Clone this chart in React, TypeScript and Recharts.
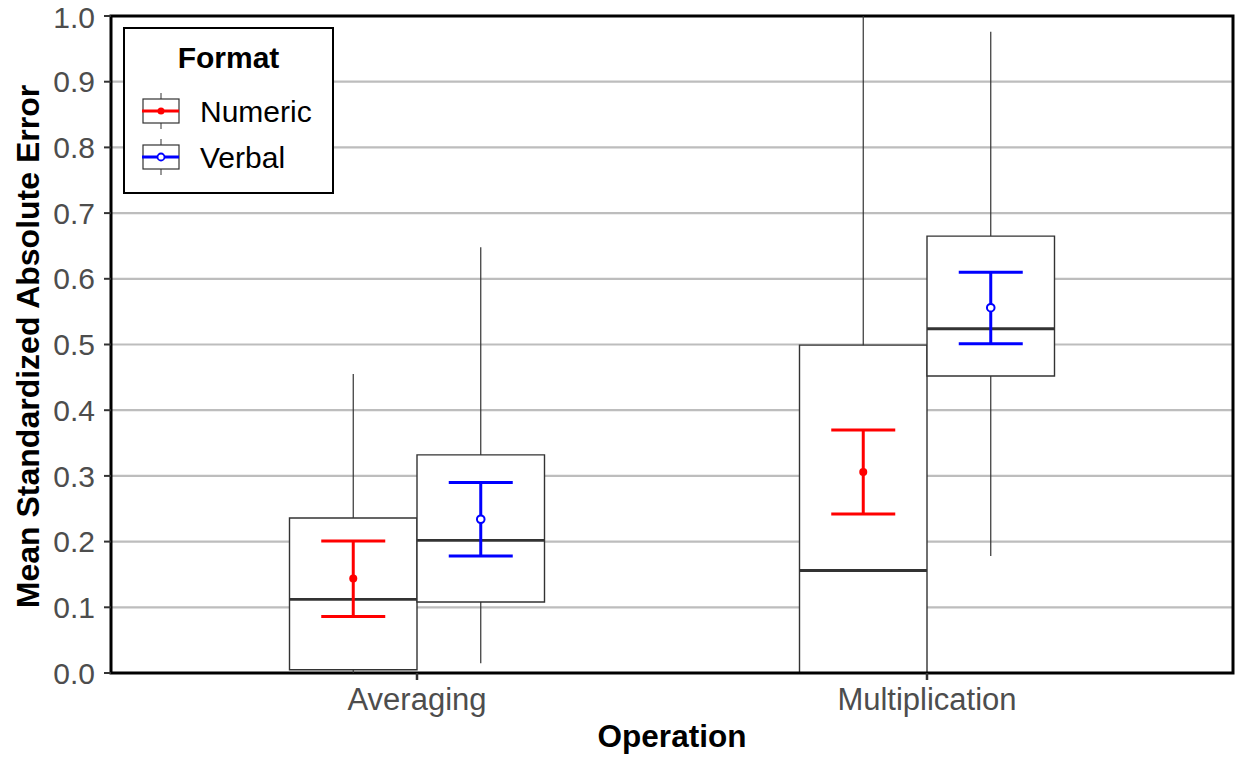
import React from "react";
import {
  ComposedChart,
  XAxis,
  YAxis,
  CartesianGrid,
  Scatter,
  ErrorBar,
  ReferenceArea,
  ReferenceLine,
  Legend,
} from "recharts";

const categories = ["Averaging", "Multiplication"];
const formats = ["Numeric", "Verbal"];
const formatColors = ["#ff0000", "#0000ff"];
const yTicks = [0, 0.1, 0.2, 0.3, 0.4, 0.5, 0.6, 0.7, 0.8, 0.9, 1.0];

// box plot stats, one value per operation
const numericMin = [0.0, 0.0];
const numericQ1 = [0.005, 0.0];
const numericMedian = [0.112, 0.156];
const numericQ3 = [0.236, 0.499];
const numericMax = [0.455, 1.0];
const numericMean = [0.144, 0.306];
const numericCiLow = [0.086, 0.242];
const numericCiHigh = [0.201, 0.37];

const verbalMin = [0.015, 0.178];
const verbalQ1 = [0.108, 0.452];
const verbalMedian = [0.202, 0.524];
const verbalQ3 = [0.332, 0.665];
const verbalMax = [0.648, 0.976];
const verbalMean = [0.234, 0.556];
const verbalCiLow = [0.178, 0.501];
const verbalCiHigh = [0.29, 0.61];

const stats = [
  { min: numericMin, q1: numericQ1, med: numericMedian, q3: numericQ3, max: numericMax, mean: numericMean, lo: numericCiLow, hi: numericCiHigh },
  { min: verbalMin, q1: verbalQ1, med: verbalMedian, q3: verbalQ3, max: verbalMax, mean: verbalMean, lo: verbalCiLow, hi: verbalCiHigh },
];

const DODGE = 0.25;
const HALF = 0.125;

const boxes = formats.flatMap((f, fi) =>
  categories.map((c, ci) => ({
    fi,
    x: ci + 1 + (fi - 0.5) * DODGE,
    min: stats[fi].min[ci],
    q1: stats[fi].q1[ci],
    med: stats[fi].med[ci],
    q3: stats[fi].q3[ci],
    max: stats[fi].max[ci],
    mean: stats[fi].mean[ci],
    lo: stats[fi].lo[ci],
    hi: stats[fi].hi[ci],
  }))
);

const whiskerData = boxes.flatMap((b) => [
  { x: b.x, y: b.q3, err: [0, b.max - b.q3] },
  { x: b.x, y: b.q1, err: [b.q1 - b.min, 0] },
]);

const meanData = formats.map((f, fi) =>
  boxes
    .filter((b) => b.fi === fi)
    .map((b) => ({ x: b.x, y: b.mean, ci: [b.mean - b.lo, b.hi - b.mean] }))
);

const FONT = '"Liberation Sans", Arial, Helvetica, sans-serif';

function LegendBox() {
  return (
    <svg width={211} height={167} style={{ fontFamily: FONT, display: "block" }}>
      <rect x={1} y={1} width={209} height={165} fill="#fff" stroke="#000" strokeWidth={2} />
      <text x={105.5} y={41} textAnchor="middle" fontSize={30} fontWeight="bold" fill="#000">
        Format
      </text>
      {formats.map((f, i) => {
        const cy = 84 + i * 46;
        return (
          <g key={f}>
            <line x1={38} x2={38} y1={cy - 18} y2={cy + 18} stroke="#333" strokeWidth={1} />
            <rect x={20} y={cy - 12} width={36} height={24} fill="#fff" stroke="#333" strokeWidth={1.2} />
            <line x1={19} x2={56} y1={cy} y2={cy} stroke={formatColors[i]} strokeWidth={3} />
            <circle
              cx={38}
              cy={cy}
              r={3.5}
              fill={i === 0 ? formatColors[i] : "#fff"}
              stroke={formatColors[i]}
              strokeWidth={i === 0 ? 0 : 1.8}
            />
            <text x={77} y={cy + 11} fontSize={30} fill="#000">
              {f}
            </text>
          </g>
        );
      })}
    </svg>
  );
}

export default function App() {
  return (
    <div style={{ position: "absolute", left: 0, top: 0 }}>
      <ComposedChart
        width={1238}
        height={758}
        margin={{ top: 16, right: 5, left: 0, bottom: 0 }}
        style={{ fontFamily: FONT, background: "#fff" }}
      >
        <CartesianGrid vertical={false} stroke="#bdbdbd" strokeWidth={2.2} />
        <XAxis
          type="number"
          dataKey="x"
          domain={[0.4, 2.6]}
          ticks={[1, 2]}
          allowDataOverflow
          tickFormatter={(v) => categories[v - 1]}
          axisLine={false}
          tickLine={{ stroke: "#333", strokeWidth: 2.5 }}
          tickSize={7}
          tickMargin={8}
          tick={{ fill: "#4d4d4d", fontSize: 31 }}
          height={85}
          label={{
            content: (props: any) => {
              const vb = props.viewBox || { x: 111, y: 673, width: 1122 };
              return (
                <text x={vb.x + vb.width / 2} y={vb.y + 74} textAnchor="middle" fontSize={31.5} fontWeight="bold" fill="#000">
                  Operation
                </text>
              );
            },
          }}
        />
        <YAxis
          type="number"
          dataKey="y"
          domain={[0, 1]}
          ticks={yTicks}
          allowDataOverflow
          tickFormatter={(v) => v.toFixed(1)}
          axisLine={false}
          tickLine={{ stroke: "#333", strokeWidth: 2 }}
          tickSize={7}
          tickMargin={9}
          tick={{ fill: "#4d4d4d", fontSize: 30 }}
          width={111}
          label={{
            content: (props: any) => {
              const vb = props.viewBox || { x: 0, y: 16, height: 657 };
              const cx = vb.x + 39;
              const cy = vb.y + vb.height / 2 + 2;
              return (
                <text
                  x={cx}
                  y={cy}
                  transform={`rotate(-90 ${cx} ${cy})`}
                  textAnchor="middle"
                  fontSize={32}
                  fontWeight="bold"
                  fill="#000"
                >
                  Mean Standardized Absolute Error
                </text>
              );
            },
          }}
        />

        {boxes.map((b, i) => (
          <ReferenceArea
            key={"box" + i}
            x1={b.x - HALF}
            x2={b.x + HALF}
            y1={b.q1}
            y2={b.q3}
            fill="#fff"
            fillOpacity={1}
            stroke="#333"
            strokeWidth={1.4}
            ifOverflow="visible"
          />
        ))}
        {boxes.map((b, i) => (
          <ReferenceLine
            key={"med" + i}
            segment={[
              { x: b.x - HALF, y: b.med },
              { x: b.x + HALF, y: b.med },
            ]}
            stroke="#333"
            strokeWidth={2.8}
            ifOverflow="visible"
          />
        ))}

        <Scatter data={whiskerData} shape={() => <g />} legendType="none" isAnimationActive={false}>
          <ErrorBar dataKey="err" direction="y" width={0} stroke="#333" strokeWidth={1.2} isAnimationActive={false} />
        </Scatter>

        {formats.map((f, fi) => (
          <Scatter
            key={f}
            name={f}
            data={meanData[fi]}
            fill={formatColors[fi]}
            isAnimationActive={false}
            shape={(p: any) => (
              <circle
                cx={p.cx}
                cy={p.cy}
                r={fi === 0 ? 4 : 3.8}
                fill={fi === 0 ? formatColors[fi] : "#fff"}
                stroke={formatColors[fi]}
                strokeWidth={fi === 0 ? 0 : 2}
              />
            )}
          >
            <ErrorBar dataKey="ci" direction="y" width={32} stroke={formatColors[fi]} strokeWidth={3} isAnimationActive={false} />
          </Scatter>
        ))}

        <ReferenceArea x1={0.4} x2={2.6} y1={0} y2={1} fill="none" stroke="#000" strokeWidth={3} ifOverflow="visible" />

        <Legend
          layout="vertical"
          align="center"
          verticalAlign="middle"
          content={() => <LegendBox />}
          wrapperStyle={{ left: 123, top: 27, width: 211, height: 167 }}
        />
      </ComposedChart>
    </div>
  );
}
